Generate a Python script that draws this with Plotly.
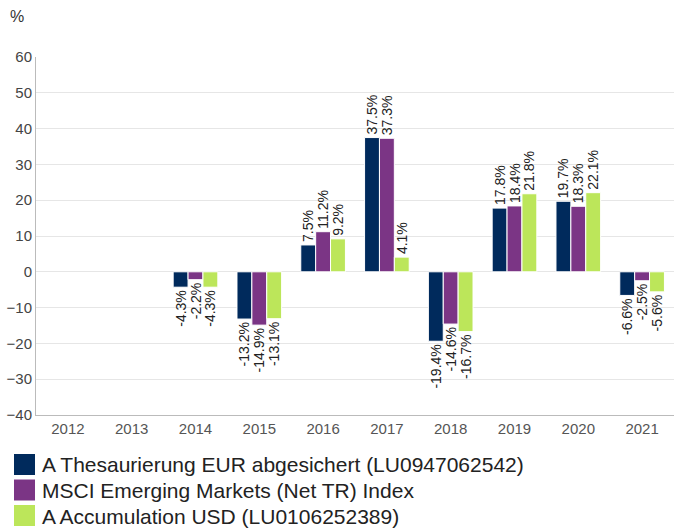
import plotly.graph_objects as go

years = ["2012", "2013", "2014", "2015", "2016", "2017", "2018", "2019", "2020", "2021"]
fund_eur = [None, None, -4.3, -13.2, 7.5, 37.5, -19.4, 17.8, 19.7, -6.6]
msci_em = [None, None, -2.2, -14.9, 11.2, 37.3, -14.6, 18.4, 18.3, -2.5]
fund_usd = [None, None, -4.3, -13.1, 9.2, 4.1, -16.7, 21.8, 22.1, -5.6]

series = [
    ("A Thesaurierung EUR abgesichert (LU0947062542)", fund_eur, "#002a5c"),
    ("MSCI Emerging Markets (Net TR) Index", msci_em, "#7b3585"),
    ("A Accumulation USD (LU0106252389)", fund_usd, "#bce65a"),
]

FONT = "Liberation Sans, Arial, sans-serif"
W, H = 674, 531
L, R, T, B = 36, 0, 57, 116
PW, PH = W - L - R, H - T - B

def px_x(px):
    return (px - L) / PW

def px_y(py):
    return (H - B - py) / PH

fig = go.Figure()
for name, vals, color in series:
    fig.add_trace(go.Bar(
        x=years, y=vals, name=name, showlegend=False,
        marker=dict(color=color, line=dict(color="white", width=1)),
        text=[f"{v:.1f}%" if v is not None else "" for v in vals],
        textposition="outside", textangle=-90, constraintext="none",
        textfont=dict(family=FONT, size=14, color="#222222"),
        cliponaxis=False, hoverinfo="skip",
    ))

# manual legend (large square swatches)
for i, (name, vals, color) in enumerate(series):
    top = 454 + i * 25.5
    fig.add_shape(type="rect", xref="paper", yref="paper",
                  x0=px_x(14), x1=px_x(35), y0=px_y(top + 21), y1=px_y(top),
                  fillcolor=color, line=dict(width=0))
    fig.add_annotation(text=name, xref="paper", yref="paper",
                       x=px_x(40), y=px_y(top + 11), xanchor="left", yanchor="middle",
                       showarrow=False,
                       font=dict(family=FONT, size=21, color="#222222"))

fig.update_layout(
    width=W, height=H,
    margin=dict(l=L, r=R, t=T, b=B, autoexpand=False),
    paper_bgcolor="white", plot_bgcolor="white",
    barmode="group", bargap=0.3, bargroupgap=0,
    font=dict(family=FONT, color="#444444"),
    showlegend=False,
)
fig.update_xaxes(
    type="category", showgrid=False, showline=True, linecolor="#bbbbbb",
    ticks="", tickfont=dict(size=15, color="#555555"), automargin=False,
)
fig.update_yaxes(
    range=[-40, 60], dtick=10, showgrid=True, gridcolor="#e6e6e6",
    zeroline=True, zerolinecolor="#e6e6e6", zerolinewidth=1,
    showline=True, linecolor="#bbbbbb", automargin=False,
    tickfont=dict(size=15, color="#444444"),
)
fig.add_annotation(
    text="%", xref="paper", yref="paper", x=px_x(17), y=px_y(16),
    xanchor="center", yanchor="middle", showarrow=False,
    font=dict(family=FONT, size=16, color="#333333"),
)
fig.write_html(
    "out.html",
    config={"displayModeBar": False},
    post_script="document.body.style.margin='0';document.body.style.overflow='hidden';",
)
